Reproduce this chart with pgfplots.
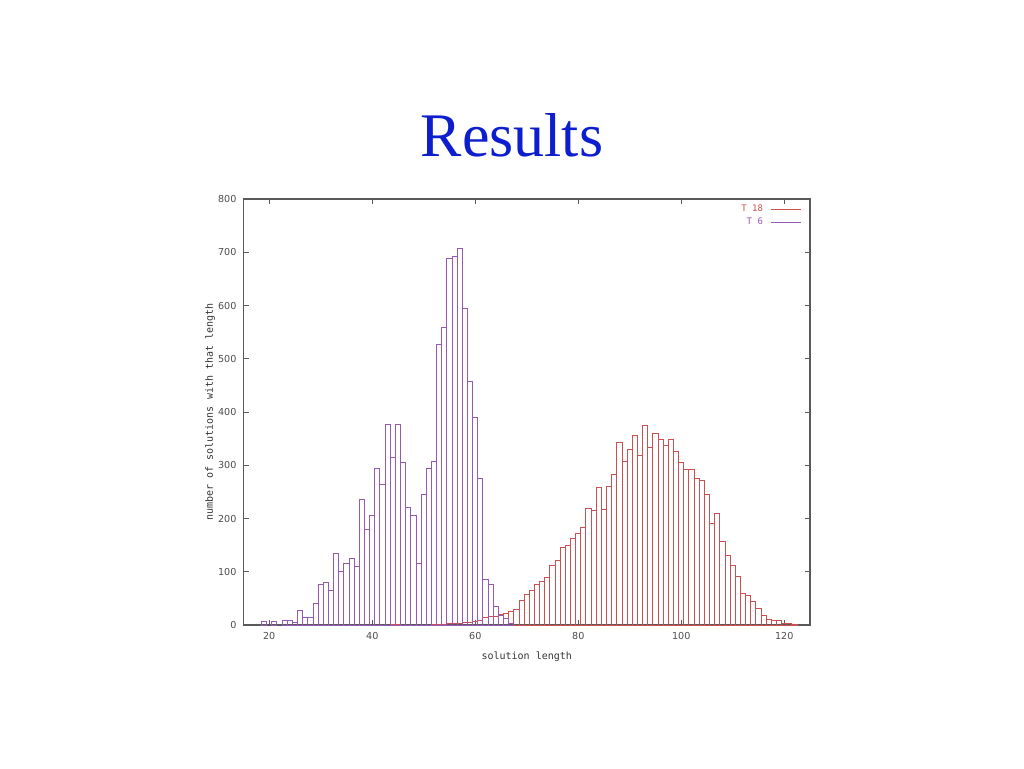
\documentclass[border=0pt]{standalone}
\usepackage{fontspec}
\setmainfont{Liberation Serif}
\newfontfamily\tickfont{DejaVu Sans}
\newfontfamily\labfont{DejaVu Sans Mono}
\usepackage{pgfplots}
\pgfplotsset{compat=1.18}
\definecolor{titleblue}{RGB}{12,30,205}
\definecolor{tred}{RGB}{205,80,80}
\definecolor{tpurple}{RGB}{150,90,180}
\definecolor{axgray}{RGB}{90,90,90}
\begin{document}
\begin{tikzpicture}
\useasboundingbox (0,0) rectangle (512pt,384pt);
\node[anchor=base, text=titleblue, font=\fontsize{31}{36}\selectfont] at (256pt,305.5pt) {Results};
\begin{axis}[
  at={(121.75pt,71.5pt)}, anchor=south west,
  scale only axis, width=283.25pt, height=213pt,
  xmin=15, xmax=125, ymin=0, ymax=800,
  xtick={20,40,...,120}, ytick={0,100,...,800},
  minor tick num=0,
  tick align=inside, xtick pos=both, ytick pos=both,
  major tick length=2.5pt,
  every tick/.style={axgray, line width=0.5pt},
  axis line style={axgray, line width=0.7pt},
  /pgf/number format/assume math mode=true,
  tick label style={font=\tickfont\fontsize{4.8}{5}\selectfont, text=black!70},
  xlabel={solution length}, ylabel={number of solutions with that length},
  label style={font=\labfont\fontsize{5}{6}\selectfont, text=black!80},
  xlabel style={at={([yshift=-16pt]axis description cs:0.5,0)}, anchor=center},
  ylabel style={at={([xshift=-16.75pt]axis description cs:0,0.5)}, anchor=center},
  legend style={at={(1,1)}, anchor=north east, xshift=-4pt, yshift=-2pt, draw=none, fill=none,
    font=\labfont\fontsize{4.5}{5}\selectfont, inner sep=0pt, row sep=0.6pt, column sep=3pt,
    nodes={inner sep=0.6pt}},
  legend plot pos=right, legend cell align=right,
]
\addplot[ybar, bar width=1, bar shift=0pt, draw=tred, fill=none, line width=0.5pt,
  legend image code/.code={\draw[draw=tred,line width=0.7pt] (0pt,0pt) -- (15pt,0pt);}]
coordinates {
(44,1) (45,1) (52,1) (53,1) (54,1) (55,2) (56,2) (57,3) (58,4) (59,5) (60,6) (61,9)
(62,15) (63,16) (64,16) (65,19) (66,21) (67,26) (68,30) (69,46) (70,58) (71,65)
(72,76) (73,82) (74,90) (75,112) (76,121) (77,146) (78,149) (79,163) (80,171)
(81,183) (82,219) (83,215) (84,258) (85,217) (86,260) (87,282) (88,343) (89,308)
(90,330) (91,355) (92,318) (93,374) (94,334) (95,360) (96,348) (97,338) (98,348)
(99,325) (100,305) (101,292) (102,292) (103,275) (104,271) (105,245) (106,190)
(107,209) (108,157) (109,130) (110,112) (111,92) (112,59) (113,56) (114,44)
(115,31) (116,18) (117,10) (118,9) (119,8) (120,3) (121,2) (122,1)
};
\addlegendentry{\textcolor{tred}{T 18}}
\addplot[ybar, bar width=1, bar shift=0pt, draw=tpurple, fill=none, line width=0.5pt,
  legend image code/.code={\draw[draw=tpurple,line width=0.7pt] (0pt,0pt) -- (15pt,0pt);}]
coordinates {
(19,6) (21,6) (23,9) (24,9) (25,5) (26,27) (27,15) (28,15) (29,41) (30,77)
(31,80) (32,65) (33,135) (34,100) (35,115) (36,125) (37,110) (38,235) (39,180)
(40,205) (41,293) (42,264) (43,376) (44,314) (45,376) (46,305) (47,220) (48,205)
(49,115) (50,245) (51,293) (52,308) (53,527) (54,558) (55,689) (56,692) (57,707)
(58,594) (59,458) (60,390) (61,275) (62,85) (63,77) (64,35) (65,18) (66,12) (67,3)
};
\addlegendentry{\textcolor{tpurple}{T 6}}
\end{axis}
\end{tikzpicture}
\end{document}
